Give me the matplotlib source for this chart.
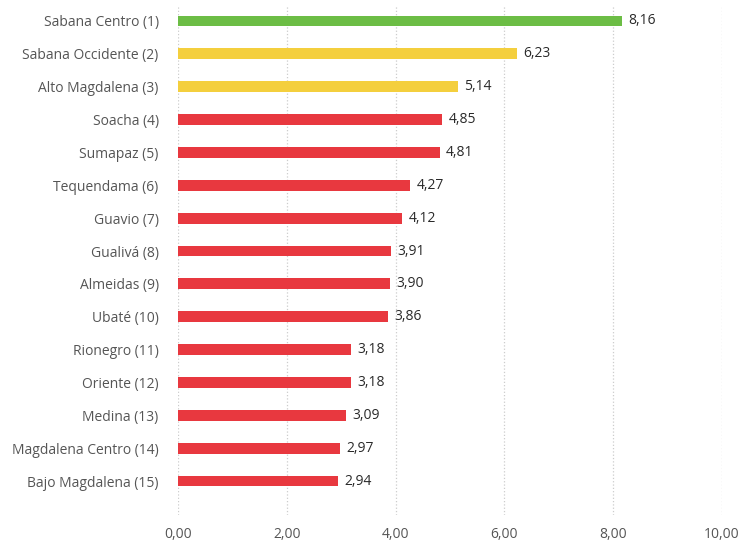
import matplotlib.pyplot as plt

plt.rcParams['font.family'] = ['Open Sans', 'DejaVu Sans']

provincias = ["Sabana Centro (1)", "Sabana Occidente (2)", "Alto Magdalena (3)",
              "Soacha (4)", "Sumapaz (5)", "Tequendama (6)", "Guavio (7)",
              "Gualivá (8)", "Almeidas (9)", "Ubaté (10)", "Rionegro (11)",
              "Oriente (12)", "Medina (13)", "Magdalena Centro (14)",
              "Bajo Magdalena (15)"]
valores = [8.16, 6.23, 5.14, 4.85, 4.81, 4.27, 4.12, 3.91, 3.90, 3.86,
           3.18, 3.18, 3.09, 2.97, 2.94]
colores = ["#6cbd45"] + ["#f4cf3e"] * 2 + ["#e8383f"] * 12

fig = plt.figure(figsize=(7.39, 5.42), dpi=100)
ax = fig.add_axes([0.241, 0.05, 0.736, 0.941])

pos = list(range(len(valores)))
ax.barh(pos, valores, height=0.33, color=colores)

for p, v in zip(pos, valores):
    ax.text(v + 0.12, p, f"{v:.2f}".replace(".", ","), va="center", ha="left",
            fontsize=10, color="#2a2a2a")

ax.set_xlim(0, 10)
ax.set_ylim(15.03, -0.49)
ax.set_xticks([0, 2, 4, 6, 8, 10])
ax.set_xticklabels([f"{t:.2f}".replace(".", ",") for t in [0, 2, 4, 6, 8, 10]])
ax.set_yticks(pos)
ax.set_yticklabels(provincias)
ax.tick_params(axis="both", length=0, labelsize=10, colors="#555555")
ax.tick_params(axis="y", pad=14)
ax.tick_params(axis="x", pad=9)

for s in ax.spines.values():
    s.set_visible(False)
ax.grid(axis="x", linestyle=":", color="#cccccc", linewidth=0.9)
ax.set_axisbelow(True)

fig.savefig("out.png", dpi=100)
